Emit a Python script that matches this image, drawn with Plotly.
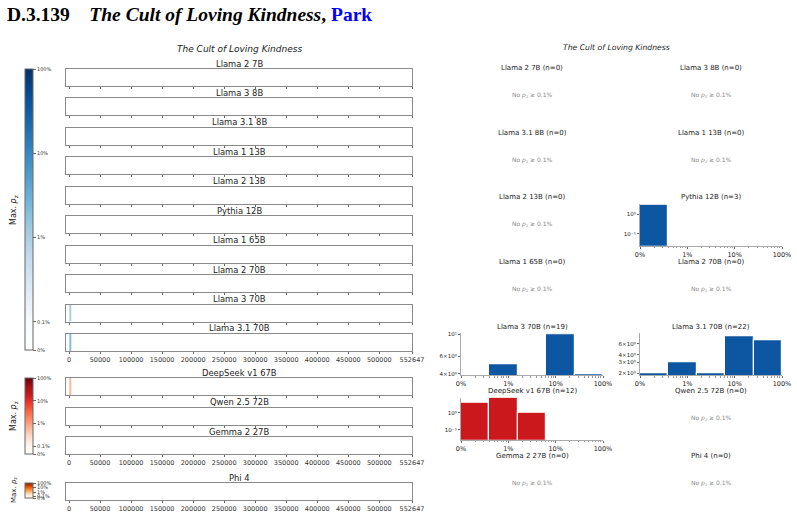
import math
import plotly.graph_objects as go
import plotly.colors as pc

W, H = 797, 515
FONT = "DejaVu Sans"

# ---------------- data ----------------
section = "D.3.139"
book_title = "The Cult of Loving Kindness"
author = "Park"
text_len = 552647
x_tick_vals = [0, 50000, 100000, 150000, 200000, 250000, 300000, 350000,
               400000, 450000, 500000, 552647]

group_blue = ["Llama 2 7B", "Llama 3 8B", "Llama 3.1 8B", "Llama 1 13B", "Llama 2 13B",
              "Pythia 12B", "Llama 1 65B", "Llama 2 70B", "Llama 3 70B", "Llama 3.1 70B"]
group_red = ["DeepSeek v1 67B", "Qwen 2.5 72B", "Gemma 2 27B"]
group_orange = ["Phi 4"]

# extracted spans in the book (start char, end char, max p_z in %)
span_model = ["Llama 3 70B", "Llama 3.1 70B", "DeepSeek v1 67B"]
span_start = [500, 500, 500]
span_end = [3600, 3900, 3600]
span_maxp = [1.0, 2.0, 0.6]

# histogram of p_z (5 log bins from 0.1% to 100%)
hist_models = ["Llama 2 7B", "Llama 3 8B", "Llama 3.1 8B", "Llama 1 13B", "Llama 2 13B",
               "Pythia 12B", "Llama 1 65B", "Llama 2 70B", "Llama 3 70B", "Llama 3.1 70B",
               "DeepSeek v1 67B", "Qwen 2.5 72B", "Gemma 2 27B", "Phi 4"]
hist_counts = [[0, 0, 0, 0, 0], [0, 0, 0, 0, 0], [0, 0, 0, 0, 0], [0, 0, 0, 0, 0],
               [0, 0, 0, 0, 0], [3, 0, 0, 0, 0], [0, 0, 0, 0, 0], [0, 0, 0, 0, 0],
               [0, 5, 0, 10, 4], [2, 3, 2, 8, 7], [4, 7, 1, 0, 0], [0, 0, 0, 0, 0],
               [0, 0, 0, 0, 0], [0, 0, 0, 0, 0]]
bin_edges = [-3.0, -2.4, -1.8, -1.2, -0.6, 0.0]
pct_tick_vals = [-3, -2, -1, 0]
pct_tick_text = ["0%", "1%", "10%", "100%"]
cbar_tick_pct = [0, 0.1, 1, 10, 100]
cbar_tick_text = ["0%", "0.1%", "1%", "10%", "100%"]

# ---------------- helpers ----------------
def fx(p):
    return p / W


def fy(p):
    return 1 - p / H


T_MAX = 1 / 3 + 3


def tval(p):
    return 0 if p <= 0 else 1 / 3 + math.log10(p / 0.1)


def make_scale(cols):
    sc = [[0.0, "#ffffff"]]
    n = len(cols)
    for i, c in enumerate(cols):
        sc.append([0.1 + 0.9 * i / (n - 1), c])
    return sc


fam_of = {}
for m in group_blue:
    fam_of[m] = ("coloraxis", "#0d56a1")
for m in group_red:
    fam_of[m] = ("coloraxis2", "#cb181d")
for m in group_orange:
    fam_of[m] = ("coloraxis3", "#d94801")

layout = {}
traces = []
annotations = []
axn = [0]


def new_axes(x0, x1, y0, y1, xa, ya):
    axn[0] += 1
    s = "" if axn[0] == 1 else str(axn[0])
    layout["xaxis" + s] = dict(domain=[fx(x0), fx(x1)], anchor="y" + s, automargin=False, **xa)
    layout["yaxis" + s] = dict(domain=[fy(y1), fy(y0)], anchor="x" + s, automargin=False, **ya)
    return "x" + s, "y" + s


def ann(x, y, text, size, color="#222", **kw):
    d = dict(x=fx(x), y=fy(y), xref="paper", yref="paper", text=text, showarrow=False,
             xanchor="center", yanchor="middle", font=dict(family=FONT, size=size, color=color))
    d.update(kw)
    annotations.append(d)


# ---------------- header ----------------
annotations.append(dict(
    x=fx(5), y=fy(15), xref="paper", yref="paper", xanchor="left", yanchor="middle",
    showarrow=False,
    text=("<b>%s</b>&nbsp;&nbsp;&nbsp;&nbsp;<b><i>%s</i>, </b>"
          "<b><span style='color:#0000ff'>%s</span></b>") % (section, book_title, author),
    font=dict(family="Liberation Serif", size=19.5, color="#000")))
ann(240, 49, "<i>%s</i>" % book_title, 9)
ann(616, 47, "<i>%s</i>" % book_title, 7.7)

# ---------------- strips ----------------
STRIP_H = 17
strip_rows = []
for i, m in enumerate(group_blue):
    strip_rows.append((m, 69 + 29.44 * i, i == len(group_blue) - 1))
for j, m in enumerate(group_red):
    strip_rows.append((m, 378 + 29.5 * j, j == len(group_red) - 1))
strip_rows.append((group_orange[0], 483, True))

for m, top, bottom_lbl in strip_rows:
    xa = dict(range=[-4830, text_len], tickvals=x_tick_vals, ticktext=[str(v) for v in x_tick_vals],
              showticklabels=bottom_lbl, ticks="outside", ticklen=2, tickcolor="#666",
              tickfont=dict(family=FONT, size=6.5, color="#333"),
              showline=True, mirror=True, linecolor="#8a8a8a", linewidth=1,
              showgrid=False, zeroline=False, fixedrange=True)
    ya = dict(range=[0, 1], showticklabels=False, ticks="", showline=True, mirror=True,
              linecolor="#8a8a8a", linewidth=1, showgrid=False, zeroline=False, fixedrange=True)
    xr, yr = new_axes(66, 412, top, top + STRIP_H, xa, ya)
    ann(239, top - 5.5, m, 8.4)
    cax = fam_of[m][0]
    found = False
    for k, sm in enumerate(span_model):
        if sm == m:
            found = True
            traces.append(go.Heatmap(x=[span_start[k], span_end[k]], y=[0, 1],
                                     z=[[tval(span_maxp[k])]], coloraxis=cax,
                                     xaxis=xr, yaxis=yr, hoverinfo="skip"))
    if not found:
        if m == group_orange[0]:
            traces.append(go.Scatter(x=[None], y=[None], mode="markers",
                                     marker=dict(color=[0], coloraxis=cax),
                                     xaxis=xr, yaxis=yr, showlegend=False, hoverinfo="skip"))
        else:
            traces.append(go.Scatter(x=[None], y=[None], xaxis=xr, yaxis=yr,
                                     showlegend=False, hoverinfo="skip"))


def cbar(top, bottom):
    return dict(x=fx(25), xanchor="left", y=fy(top), yanchor="top",
                len=bottom - top, lenmode="pixels", thickness=8, thicknessmode="pixels",
                xpad=0, ypad=0, outlinewidth=1, outlinecolor="#666",
                tickvals=[tval(p) for p in cbar_tick_pct], ticktext=cbar_tick_text,
                ticks="outside", ticklen=3, tickcolor="#666",
                tickfont=dict(family=FONT, size=5, color="#333"))


layout["coloraxis"] = dict(colorscale=make_scale(pc.sequential.Blues), cmin=0, cmax=T_MAX,
                           colorbar=cbar(69, 350))
layout["coloraxis2"] = dict(colorscale=make_scale(pc.sequential.Reds), cmin=0, cmax=T_MAX,
                            colorbar=cbar(378, 454))
layout["coloraxis3"] = dict(colorscale=make_scale(pc.sequential.Oranges), cmin=0, cmax=T_MAX,
                            colorbar=cbar(483, 498))
lbl = "Max. <i>p</i><sub>z</sub>"
ann(14, 210, lbl, 8, textangle=-90)
ann(14, 416, lbl, 8, textangle=-90)
ann(14, 490, lbl, 7, textangle=-90)

# ---------------- histograms ----------------
col_x = [(461, 603), (640, 782)]
y_cfg = {
    "Pythia 12B": ([-1.6, 0.52], [0.1, 1], ["10⁻¹", "10⁰"]),
    "DeepSeek v1 67B": ([-1.6, 0.87], [0.1, 1], ["10⁻¹", "10⁰"]),
    "Llama 3 70B": ([0.59, 1.012], [4, 6, 10], ["4×10⁰", "6×10⁰", "10¹"]),
    "Llama 3.1 70B": ([0.27, 0.953], [2, 3, 4, 6], ["2×10⁰", "3×10⁰", "4×10⁰", "6×10⁰"]),
}
minor_x = []
for d in (-3, -2, -1):
    for k in range(2, 10):
        minor_x.append(d + math.log10(k))

centers = [(bin_edges[i] + bin_edges[i + 1]) / 2 for i in range(len(bin_edges) - 1)]
widths = [bin_edges[i + 1] - bin_edges[i] for i in range(len(bin_edges) - 1)]

for i, m in enumerate(hist_models):
    row, col = divmod(i, 2)
    ty = 68 + 64.67 * row
    cx = (col_x[col][0] + col_x[col][1]) / 2
    counts = hist_counts[i]
    n = sum(counts)
    ann(cx, ty, "%s (n=%d)" % (m, n), 7)
    if n == 0:
        ann(cx, ty + 27, "No <i>p</i><sub>z</sub> ≥ 0.1%", 6, color="#888")
        continue
    yr_, yt, ytt = y_cfg[m]
    xa = dict(range=[-3, 0], tickvals=pct_tick_vals, ticktext=pct_tick_text,
              ticks="outside", ticklen=2, tickcolor="#666",
              tickfont=dict(family=FONT, size=6.5, color="#222"),
              minor=dict(tickvals=minor_x, ticks="outside", ticklen=1.5, tickcolor="#999"),
              showline=True, linecolor="#aaa", linewidth=1, showgrid=False, zeroline=False,
              fixedrange=True)
    ya = dict(type="log", range=yr_, tickvals=yt, ticktext=ytt, ticks="outside", ticklen=2,
              tickcolor="#666", tickfont=dict(family=FONT, size=5.5, color="#222"),
              showline=True, linecolor="#aaa", linewidth=1, showgrid=False, zeroline=False,
              fixedrange=True)
    xr, yr = new_axes(col_x[col][0], col_x[col][1], ty + 6.5, ty + 48.5, xa, ya)
    xs = [c for c, v in zip(centers, counts) if v > 0]
    ws = [w for w, v in zip(widths, counts) if v > 0]
    vs = [v for v in counts if v > 0]
    traces.append(go.Bar(x=xs, y=vs, width=ws, marker=dict(color=fam_of[m][1],
                                                              line=dict(color="white", width=1.2)),
                         xaxis=xr, yaxis=yr, showlegend=False, hoverinfo="skip"))

fig = go.Figure(data=traces)
fig.update_layout(**layout)
fig.update_layout(width=W, height=H, margin=dict(l=0, r=0, t=0, b=0, pad=0, autoexpand=False),
                  paper_bgcolor="white", plot_bgcolor="white", showlegend=False,
                  annotations=annotations, bargap=0, font=dict(family=FONT))
fig.write_html("out.html")
